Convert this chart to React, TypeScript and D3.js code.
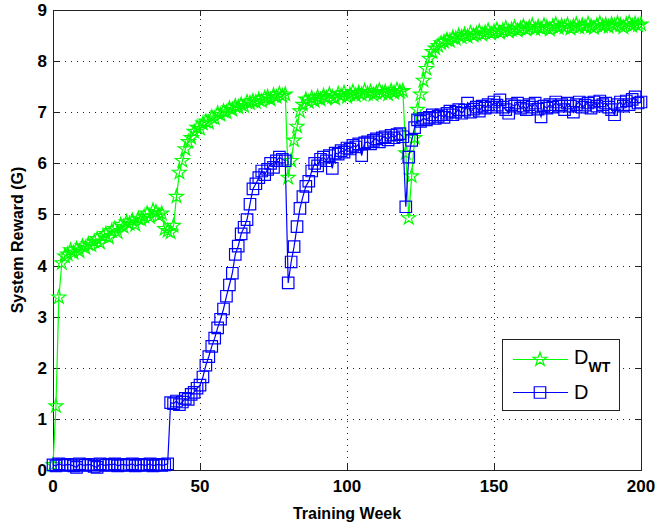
import React from "react";
import * as d3 from "d3";

const weeks: number[] = d3.range(0, 201);

const dwtValues: number[] = [
  0.10, 1.25, 3.38, 4.05, 4.18, 4.22, 4.30, 4.25, 4.33, 4.28,
  4.38, 4.35, 4.42, 4.40, 4.47, 4.52, 4.45, 4.58, 4.62, 4.55,
  4.68, 4.72, 4.65, 4.80, 4.76, 4.85, 4.82, 4.88, 4.80, 4.92,
  4.90, 4.96, 5.02, 4.95, 5.08, 5.05, 4.98, 5.02, 4.72, 4.68,
  4.65, 4.78, 5.35, 5.82, 6.05, 6.28, 6.42, 6.50, 6.62, 6.70,
  6.68, 6.78, 6.82, 6.80, 6.90, 6.88, 6.98, 6.95, 7.02, 7.00,
  7.08, 7.05, 7.12, 7.10, 7.15, 7.12, 7.20, 7.18, 7.22, 7.20,
  7.25, 7.22, 7.28, 7.30, 7.25, 7.33, 7.30, 7.36, 7.32, 7.35,
  5.72, 6.05, 6.45, 6.72, 7.02, 7.15, 7.25, 7.20, 7.28, 7.22,
  7.30, 7.25, 7.32, 7.28, 7.35, 7.30, 7.27, 7.36, 7.32, 7.38,
  7.30, 7.35, 7.40, 7.33, 7.38, 7.35, 7.42, 7.36, 7.40, 7.34,
  7.38, 7.43, 7.37, 7.40, 7.35, 7.42, 7.38, 7.44, 7.40, 7.42,
  6.20, 4.93, 5.75, 6.50, 7.05, 7.35, 7.62, 7.85, 8.05, 8.18,
  8.25, 8.30, 8.35, 8.38, 8.42, 8.40, 8.46, 8.44, 8.50, 8.47,
  8.52, 8.48, 8.55, 8.50, 8.53, 8.58, 8.52, 8.56, 8.60, 8.54,
  8.58, 8.62, 8.56, 8.60, 8.65, 8.58, 8.62, 8.66, 8.60, 8.64,
  8.68, 8.62, 8.66, 8.70, 8.63, 8.67, 8.64, 8.70, 8.66, 8.62,
  8.68, 8.72, 8.65, 8.69, 8.66, 8.71, 8.64, 8.68, 8.72, 8.66,
  8.70, 8.67, 8.73, 8.68, 8.65, 8.70, 8.74, 8.68, 8.71, 8.67,
  8.72, 8.69, 8.74, 8.70, 8.66, 8.72, 8.75, 8.69, 8.73, 8.70,
  8.72,
];

const dValues: number[] = [
  0.10, 0.08, 0.12, 0.10, 0.09, 0.11, 0.10, 0.08, 0.05, 0.12,
  0.10, 0.09, 0.11, 0.10, 0.07, 0.05, 0.12, 0.10, 0.09, 0.11,
  0.10, 0.12, 0.08, 0.10, 0.11, 0.09, 0.10, 0.12, 0.08, 0.10,
  0.11, 0.09, 0.10, 0.12, 0.08, 0.10, 0.11, 0.09, 0.10, 0.12,
  1.32, 1.30, 1.35, 1.28, 1.33, 1.40, 1.38, 1.48, 1.52, 1.60,
  1.66, 1.82, 2.05, 2.22, 2.42, 2.58, 2.78, 2.95, 3.15, 3.40,
  3.62, 3.85, 4.22, 4.38, 4.62, 4.75, 4.90, 5.20, 5.50, 5.60,
  5.72, 5.85, 5.78, 5.88, 6.00, 5.92, 6.05, 6.12, 6.08, 6.05,
  3.66, 4.07, 4.37, 4.76, 5.12, 5.35, 5.55, 5.65, 5.85, 6.00,
  5.95, 6.08, 6.12, 6.05, 6.15, 5.90, 6.20, 6.18, 6.25, 6.22,
  6.30, 6.28, 6.35, 6.32, 6.38, 6.15, 6.40, 6.42, 6.38, 6.45,
  6.48, 6.42, 6.50, 6.52, 6.46, 6.55, 6.50, 6.56, 6.58, 6.52,
  5.15, 6.12, 6.45, 6.70, 6.85, 6.82, 6.88, 6.85, 6.90, 6.95,
  6.88, 6.92, 6.95, 6.90, 6.98, 7.02, 6.95, 7.00, 7.05, 6.98,
  7.04, 7.18, 7.00, 7.06, 7.10, 7.02, 7.12, 7.08, 7.15, 7.10,
  7.20, 7.14, 7.24, 7.10, 7.05, 6.98, 7.15, 7.12, 7.18, 7.08,
  7.12, 7.05, 7.15, 7.10, 7.18, 7.06, 6.91, 7.12, 7.08, 7.15,
  7.10, 7.20, 7.12, 7.15, 7.05, 7.18, 7.12, 7.00, 7.15, 7.20,
  7.10, 7.14, 7.18, 7.08, 7.20, 7.12, 7.22, 7.15, 7.18, 7.10,
  7.05, 6.95, 7.15, 7.20, 7.12, 7.22, 7.15, 7.25, 7.30, 7.18,
  7.20,
];

const xTicks: number[] = [0, 50, 100, 150, 200];
const yTicks: number[] = [0, 1, 2, 3, 4, 5, 6, 7, 8, 9];

const W = 656;
const H = 528;
const L = 53;
const R = 641;
const T = 10;
const B = 470;

const GREEN = "#00ff00";
const BLUE = "#0000ff";
const FONT = "'Liberation Sans', Arial, Helvetica, sans-serif";

export default function App() {
  const x = d3.scaleLinear().domain([0, 200]).range([L, R]);
  const y = d3.scaleLinear().domain([0, 9]).range([B, T]);

  const dwtPts = weeks.map((w, i) => [w, dwtValues[i]] as [number, number]);
  const dPts = weeks.map((w, i) => [w, dValues[i]] as [number, number]);

  const line = d3
    .line<[number, number]>()
    .x((d) => x(d[0]))
    .y((d) => y(d[1]));

  const starPath = d3.symbol(d3.symbolStar, 60)() as string;
  const squarePath = d3.symbol(d3.symbolSquare, 132)() as string;

  const tickLen = 6;

  return (
    <svg
      width={W}
      height={H}
      style={{ position: "absolute", left: 0, top: 0, background: "#fff" }}
    >
      <rect x={0} y={0} width={W} height={H} fill="#fff" />
      {/* grid */}
      <g stroke="#222" strokeWidth={1} strokeDasharray="1,5">
        {xTicks.slice(1, -1).map((t) => (
          <line key={"gx" + t} x1={x(t) + 0.5} x2={x(t) + 0.5} y1={B} y2={T} />
        ))}
        {yTicks.slice(1, -1).map((t) => (
          <line key={"gy" + t} x1={L} x2={R} y1={Math.round(y(t)) + 0.5} y2={Math.round(y(t)) + 0.5} />
        ))}
      </g>
      {/* box */}
      <rect x={L + 0.5} y={T + 0.5} width={R - L} height={B - T} fill="none" stroke="#222" strokeWidth={1} />
      {/* ticks */}
      <g stroke="#222" strokeWidth={1}>
        {xTicks.map((t) => (
          <g key={"tx" + t}>
            <line x1={x(t) + 0.5} x2={x(t) + 0.5} y1={B} y2={B - tickLen} />
            <line x1={x(t) + 0.5} x2={x(t) + 0.5} y1={T} y2={T + tickLen} />
          </g>
        ))}
        {yTicks.map((t) => (
          <g key={"ty" + t}>
            <line x1={L} x2={L + tickLen} y1={Math.round(y(t)) + 0.5} y2={Math.round(y(t)) + 0.5} />
            <line x1={R} x2={R - tickLen} y1={Math.round(y(t)) + 0.5} y2={Math.round(y(t)) + 0.5} />
          </g>
        ))}
      </g>
      {/* tick labels */}
      <g fontFamily={FONT} fontWeight="bold" fontSize={17} fill="#000">
        {xTicks.map((t) => (
          <text key={"lx" + t} x={x(t)} y={492} textAnchor="middle">
            {t}
          </text>
        ))}
        {yTicks.map((t) => (
          <text key={"ly" + t} x={47} y={y(t) + 6} textAnchor="end">
            {t}
          </text>
        ))}
      </g>
      {/* axis labels */}
      <text x={(L + R) / 2} y={519} textAnchor="middle" fontFamily={FONT} fontWeight="bold" fontSize={16}>
        Training Week
      </text>
      <text
        transform={`translate(23,${(T + B) / 2}) rotate(-90)`}
        textAnchor="middle"
        fontFamily={FONT}
        fontWeight="bold"
        fontSize={16}
      >
        System Reward (G)
      </text>
      {/* D_WT series */}
      <path d={line(dwtPts) as string} fill="none" stroke={GREEN} strokeWidth={1.2} />
      <g fill="none" stroke={GREEN} strokeWidth={1.2}>
        {dwtPts.map((p, i) => (
          <path key={"s" + i} d={starPath} transform={`translate(${x(p[0])},${y(p[1])})`} />
        ))}
      </g>
      {/* D series */}
      <path d={line(dPts) as string} fill="none" stroke={BLUE} strokeWidth={1.2} />
      <g fill="none" stroke={BLUE} strokeWidth={1.2}>
        {dPts.map((p, i) => (
          <path key={"q" + i} d={squarePath} transform={`translate(${x(p[0])},${y(p[1])})`} />
        ))}
      </g>
      {/* legend */}
      <rect x={502.5} y={339.5} width={117} height={71} fill="#fff" stroke="#222" strokeWidth={1} />
      <line x1={513} x2={568} y1={359.5} y2={359.5} stroke={GREEN} strokeWidth={1.2} />
      <path d={starPath} transform="translate(540,359.5)" fill="none" stroke={GREEN} strokeWidth={1.2} />
      <text x={574} y={364} fontFamily={FONT} fontSize={20} fill="#000">
        D
        <tspan fontSize={14} fontWeight="bold" dy={8}>
          WT
        </tspan>
      </text>
      <line x1={513} x2={568} y1={392.5} y2={392.5} stroke={BLUE} strokeWidth={1.2} />
      <path d={squarePath} transform="translate(540,392.5)" fill="none" stroke={BLUE} strokeWidth={1.2} />
      <text x={574} y={399} fontFamily={FONT} fontSize={20} fill="#000">
        D
      </text>
    </svg>
  );
}
